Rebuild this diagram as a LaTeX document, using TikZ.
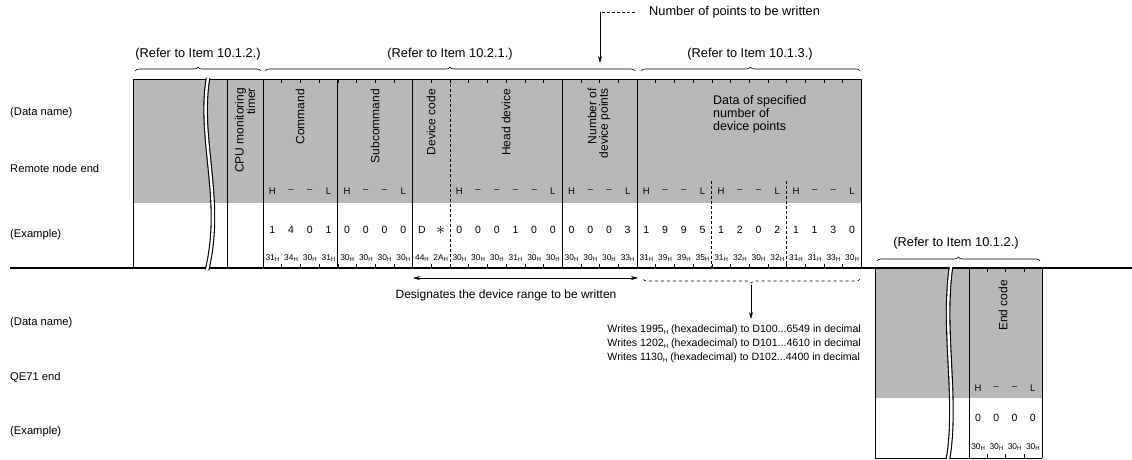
\documentclass[tikz,border=0pt]{standalone}
\usepackage{fontspec}
\setmainfont{Liberation Sans}
\usetikzlibrary{decorations.pathreplacing,arrows.meta}
\definecolor{halft}{gray}{0.72}
\newcommand{\hsub}{\raisebox{-0.3ex}{\fontsize{6}{6}\selectfont H}}
\begin{document}
\begin{tikzpicture}[x=1pt,y=-1pt,
  rowlbl/.style={font=\fontsize{11.2}{13}\selectfont, inner sep=0pt, anchor=west},
  reflbl/.style={font=\fontsize{12.8}{14}\selectfont, inner sep=0pt},
  vlbl/.style={font=\fontsize{12}{11.5}\selectfont, rotate=90, inner sep=0pt, anchor=east},
  hl/.style={font=\fontsize{9.5}{10}\selectfont, inner sep=0pt},
  ex/.style={font=\fontsize{10.5}{11}\selectfont, inner sep=0pt},
  hexs/.style={font=\fontsize{8.4}{9}\selectfont, inner sep=0pt},
  sep/.style={line width=0.8pt},
  dsep/.style={line width=0.8pt, dash pattern=on 3pt off 2pt},
  brc/.style={decorate, decoration={brace, amplitude=4pt}, line width=0.6pt},
  tck/.style={line width=0.5pt},
  brk/.style={double=white, double distance=2.4pt, line width=1.1pt},
  arr/.style={line width=0.6pt, -{Stealth[length=7pt,width=4pt]}}]
\useasboundingbox (0,0) rectangle (1132,460);
% grey fields
\fill[halft] (133,79) rectangle (861.4,203);
\fill[halft] (875,268) rectangle (1042,398);
% base line
\coordinate (bl0) at (10,268); \coordinate (bl1) at (1132,268);
\draw[line width=1.4pt] (bl0) -- (bl1);
% upper block frame and separators
\draw[sep] (133,79) -- (861.4,79);
\foreach \xx in {133,227,263,337.8,412.6,562.2,637,861.4}
  \draw[sep] (\xx,79) -- (\xx,268);
\draw[dsep] (450,79) -- (450,268);
\draw[dsep] (711.8,181) -- (711.8,268);
\draw[dsep] (786.6,181) -- (786.6,268);
\foreach \k in {1,...,31} {
  \draw[tck] ({263+18.7*\k},79) -- ++(0,4);
  \draw[tck] ({263+18.7*\k},268) -- ++(0,-4);
}
% lower block frame
\foreach \xx in {875,969,1042}
  \draw[sep] (\xx,268) -- (\xx,458);
\draw[sep] (875,458) -- (1042,458);
\foreach \k in {1,2,3} {
  \draw[tck] ({969+18.25*\k},268) -- ++(0,4);
  \draw[tck] ({969+18.25*\k},458) -- ++(0,-4);
}
% break lines
\draw[brk] (208,78) .. controls (198,140) and (224,200) .. (207,270);
\draw[brk] (951,267) .. controls (942,330) and (958,400) .. (948,459);
% row labels
\node[rowlbl] (dn1) at (10,113) {(Data name)};
\node[rowlbl] (rne) at (10,168) {Remote node end};
\node[rowlbl] (ex1) at (10,235) {(Example)};
\node[rowlbl] (dn2) at (10,323) {(Data name)};
\node[rowlbl] (qe) at (10,377) {QE71 end};
\node[rowlbl] (ex2) at (10,432) {(Example)};
% refer labels and braces
\node[reflbl] (r1) at (198,54) {(Refer to Item 10.1.2.)};
\node[reflbl] (r2) at (450,54) {(Refer to Item 10.2.1.)};
\node[reflbl] (r3) at (750,54) {(Refer to Item 10.1.3.)};
\node[reflbl] (r4) at (956,243) {(Refer to Item 10.1.2.)};
\coordinate (b1a) at (135,71); \coordinate (b1b) at (261,71);
\coordinate (b2a) at (265,71); \coordinate (b2b) at (635,71);
\coordinate (b3a) at (641,71); \coordinate (b3b) at (860,71);
\coordinate (b4a) at (877,261); \coordinate (b4b) at (1040,261);
\draw[brc] (b1a) -- (b1b);
\draw[brc] (b2a) -- (b2b);
\draw[brc] (b3a) -- (b3b);
\draw[brc] (b4a) -- (b4b);
% number of points to be written
\node[reflbl, anchor=west] (npt) at (649,12) {Number of points to be written};
\coordinate (npa) at (635,12); \coordinate (npb) at (600,12); \coordinate (npc) at (600,63);
\draw[line width=0.5pt, densely dashed] (npa) -- (npb);
\draw[arr] (npb) -- (npc);
% vertical field names
\node[vlbl, align=right] (cpu) at (245,88) {CPU monitoring\\timer};
\node[vlbl] (cmd) at (300,89) {Command};
\node[vlbl] (sub) at (375,89) {Subcommand};
\node[vlbl] (dev) at (431,89) {Device code};
\node[vlbl] (head) at (506,89) {Head device};
\node[vlbl, align=right] (num) at (599,88) {Number of\\device points};
\node[vlbl] (endc) at (1003,280) {End code};
\node[reflbl, anchor=north west, align=left, font=\fontsize{12.5}{13.2}\selectfont] (data) at (713,95) {Data of specified\\number of\\device points};
% H - - L row
\foreach \b/\t [count=\i] in {0/H,1/–,2/–,3/L,4/H,5/–,6/–,7/L,10/H,11/–,12/–,13/–,14/–,15/L,16/H,17/–,18/–,19/L,20/H,21/–,22/–,23/L,24/H,25/–,26/–,27/L,28/H,29/–,30/–,31/L}
  \node[hl] (hl\i) at ({263+18.7*(\b+0.5)},191) {\t};
% example values
\foreach \c [count=\i from 0] in {1,4,0,1,0,0,0,0,D,{\raisebox{-0.35ex}{\fontsize{17}{17}\selectfont$\ast$}},0,0,0,1,0,0,0,0,0,3,1,9,9,5,1,2,0,2,1,1,3,0}
  \node[ex] (ev\i) at ({263+18.7*(\i+0.5)},230) {\c};
% hex codes
\foreach \c [count=\i from 0] in {31,34,30,31,30,30,30,30,44,2A,30,30,30,31,30,30,30,30,30,33,31,39,39,35,31,32,30,32,31,31,33,30}
  \node[hexs] (hx\i) at ({263+18.7*(\i+0.5)},258) {\c\hsub};
% lower block fields
\foreach \t [count=\i from 0] in {H,–,–,L}
  \node[hl] (lh\i) at ({969+18.25*(\i+0.5)},388) {\t};
\foreach \i in {0,...,3} {
  \node[ex] (le\i) at ({969+18.25*(\i+0.5)},418) {0};
  \node[hexs] (lx\i) at ({969+18.25*(\i+0.5)},447) {30\hsub};
}
% designates range
\coordinate (dga) at (413,278); \coordinate (dgb) at (638,278);
\draw[line width=0.6pt, {Stealth[length=7pt,width=4pt]}-{Stealth[length=7pt,width=4pt]}] (dga) -- (dgb);
\node[reflbl, font=\fontsize{12}{13}\selectfont] (dgt) at (506,295) {Designates the device range to be written};
\coordinate (wba) at (860,279); \coordinate (wbb) at (643,279);
\draw[brc, dashed] (wba) -- (wbb);
\coordinate (wa) at (751,285); \coordinate (wb) at (751,319);
\draw[arr] (wa) -- (wb);
\node[font=\fontsize{10.6}{14}\selectfont, inner sep=0pt, anchor=north east, align=left] (wr) at (861,325)
  {Writes 1995\hsub{} (hexadecimal) to D100...6549 in decimal\\
   Writes 1202\hsub{} (hexadecimal) to D101...4610 in decimal\\
   Writes 1130\hsub{} (hexadecimal) to D102...4400 in decimal};
\end{tikzpicture}
\end{document}
